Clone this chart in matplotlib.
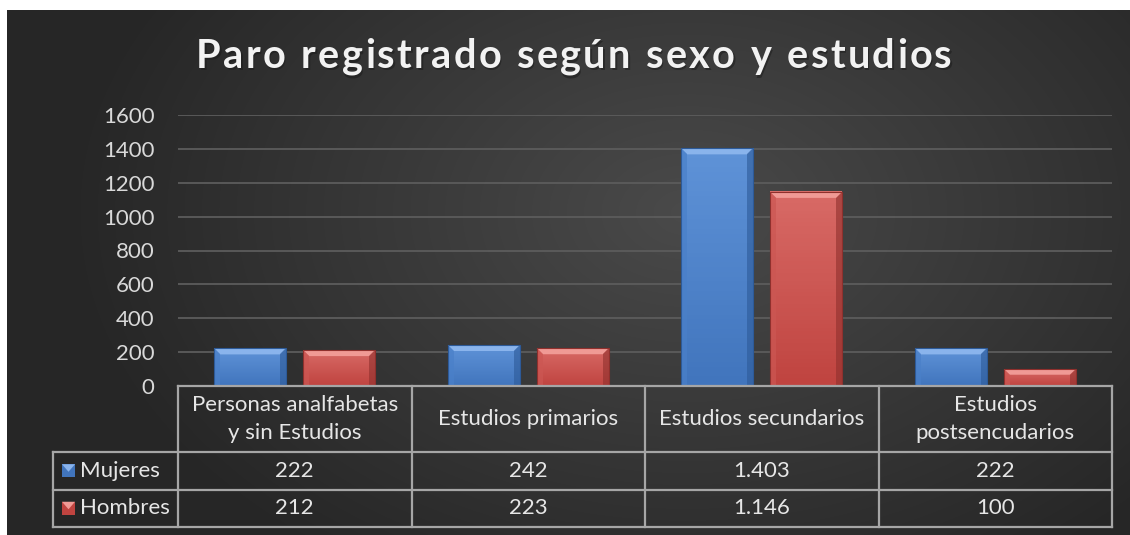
import matplotlib.pyplot as plt
import numpy as np
from matplotlib.patches import Polygon, Rectangle
from matplotlib.colors import LinearSegmentedColormap

categories = ["Personas analfabetas\ny sin Estudios", "Estudios primarios",
              "Estudios secundarios", "Estudios\npostsencudarios"]
series = ["Mujeres", "Hombres"]
mujeres = [222, 242, 1403, 222]
hombres = [212, 223, 1146, 100]
yticks = [0, 200, 400, 600, 800, 1000, 1200, 1400, 1600]
title = "Paro registrado según sexo y estudios"

W, H = 1130, 535
FONT = ["Lato", "DejaVu Sans"]
plt.rcParams["font.family"] = FONT
FS = 16


def fx(px):
    return px / W


def fy(py):
    return 1 - py / H


fig = plt.figure(figsize=(W / 100, H / 100), dpi=100)
fig.patch.set_facecolor("white")

# background with radial gradient
bg = fig.add_axes([fx(7), 0, 1 - fx(7), fy(10)])
bg.set_axis_off()
yy, xx = np.mgrid[0:520, 0:1123]
r = np.sqrt(((xx - 680) / 620) ** 2 + ((yy - 200) / 420) ** 2)
shade = np.clip(0.29 - 0.14 * r, 0.15, 0.30)
bg.imshow(np.dstack([shade] * 3), aspect="auto", extent=[0, 1, 0, 1], origin="upper")
bg.set_xlim(0, 1)
bg.set_ylim(0, 1)

# title with letter spacing
fig.canvas.draw()
renderer = fig.canvas.get_renderer()
tfs = 28.5
spacing = 2.3
widths = []
for ch in title:
    t = fig.text(0, 0, ch if ch != " " else "a", fontsize=tfs, fontweight="bold")
    w = t.get_window_extent(renderer).width
    if ch == " ":
        w *= 0.55
    widths.append(w)
    t.remove()
total = sum(widths) + spacing * (len(title) - 1)
x0 = 574 - total / 2
for ch, w in zip(title, widths):
    if ch != " ":
        fig.text(fx(x0 + 1.5), fy(57 + 2), ch, fontsize=tfs, fontweight="bold",
                 color="#1a1a1a", alpha=0.5, va="center")
        fig.text(fx(x0), fy(57), ch, fontsize=tfs, fontweight="bold",
                 color="#f2f2f2", va="center")
    x0 += w + spacing

# plot area
ax = fig.add_axes([fx(178), fy(386), fx(1112) - fx(178), fy(115) - fy(386)])
ax.set_facecolor("none")
ax.set_xlim(-0.5, 3.5)
ax.set_ylim(0, 1600)
ax.set_yticks(yticks)
ax.set_yticklabels([str(v) for v in yticks], fontsize=FS, color="#d9d9d9")
ax.tick_params(axis="y", length=0, pad=17)
ax.set_xticks([])
for s in ax.spines.values():
    s.set_visible(False)
ax.grid(axis="y", color="#5c5c5c", linewidth=1.3)
ax.set_axisbelow(True)

bw = 72 / 233.5
gap = 17 / 233.5
xs = np.arange(len(categories))
px_x = 1 / 233.5
px_y = 1600 / 271.0
bev = 6

styles = {
    "Mujeres": dict(top="#5f93d8", bot="#4175bd", light="#8ab4ec", dark="#2d5a98",
                    side="#4a80c9"),
    "Hombres": dict(top="#d86a66", bot="#c04440", light="#f09a95", dark="#8f302d",
                    side="#cc5753"),
}

for i, (name, vals) in enumerate(zip(series, [mujeres, hombres])):
    st = styles[name]
    cmap = LinearSegmentedColormap.from_list(name, [st["bot"], st["top"]])
    offs = (-1 if i == 0 else 1) * (bw + gap) / 2
    for x, v in zip(xs + offs, vals):
        l, rgt = x - bw / 2, x + bw / 2
        grad = np.linspace(0, 1, 50).reshape(-1, 1)
        ax.imshow(grad, cmap=cmap, origin="lower", aspect="auto",
                  extent=[l, rgt, 0, v], zorder=2)
        bx = bev * px_x
        by = min(bev * px_y, v / 3)
        ax.add_patch(Polygon([(l, v), (rgt, v), (rgt - bx, v - by), (l + bx, v - by)],
                             closed=True, color=st["light"], lw=0, zorder=3))
        ax.add_patch(Polygon([(rgt, v), (rgt, 0), (rgt - bx, 0), (rgt - bx, v - by)],
                             closed=True, color=st["dark"], alpha=0.6, lw=0, zorder=3))
        ax.add_patch(Polygon([(l, v), (l, 0), (l + bx, 0), (l + bx, v - by)],
                             closed=True, color=st["side"], alpha=0.7, lw=0, zorder=3))
        ax.add_patch(Rectangle((l, 0), bw, v, fill=False, ec=st["dark"], lw=0.8, zorder=4))

# data table
lc = "#a6a6a6"
cols = [178, 411.5, 645, 878.5, 1112]
rows = [386, 452, 489.5, 527]
left = 53
lw = 1.6
for yv in rows:
    x_start = left if yv != rows[0] else cols[0]
    fig.add_artist(plt.Line2D([fx(x_start), fx(cols[-1])], [fy(yv), fy(yv)],
                              color=lc, lw=lw))
for xv in cols:
    fig.add_artist(plt.Line2D([fx(xv), fx(xv)], [fy(rows[0]), fy(rows[-1])],
                              color=lc, lw=lw))
fig.add_artist(plt.Line2D([fx(left), fx(left)], [fy(rows[1]), fy(rows[-1])],
                          color=lc, lw=lw))

tc = "#e6e6e6"
for j, cat in enumerate(categories):
    cx = (cols[j] + cols[j + 1]) / 2
    fig.text(fx(cx), fy((rows[0] + rows[1]) / 2), cat, ha="center", va="center",
             fontsize=FS, color=tc, linespacing=1.45)
    for k, vals in enumerate([mujeres, hombres]):
        cy = (rows[k + 1] + rows[k + 2]) / 2
        fig.text(fx(cx), fy(cy), f"{vals[j]:,}".replace(",", "."), ha="center",
                 va="center", fontsize=FS, color=tc)

for k, name in enumerate(series):
    st = styles[name]
    cy = (rows[k + 1] + rows[k + 2]) / 2
    kx, ks = 62, 13
    fig.add_artist(Rectangle((fx(kx), fy(cy + ks / 2)), fx(ks), ks / H,
                             color=st["bot"], lw=0))
    fig.add_artist(Polygon([(fx(kx), fy(cy - ks / 2)), (fx(kx + ks), fy(cy - ks / 2)),
                            (fx(kx + ks / 2), fy(cy + 1))], closed=True,
                           color=st["light"], lw=0))
    fig.text(fx(80), fy(cy), name, ha="left", va="center", fontsize=FS, color=tc)

fig.savefig("out.png", dpi=100)
